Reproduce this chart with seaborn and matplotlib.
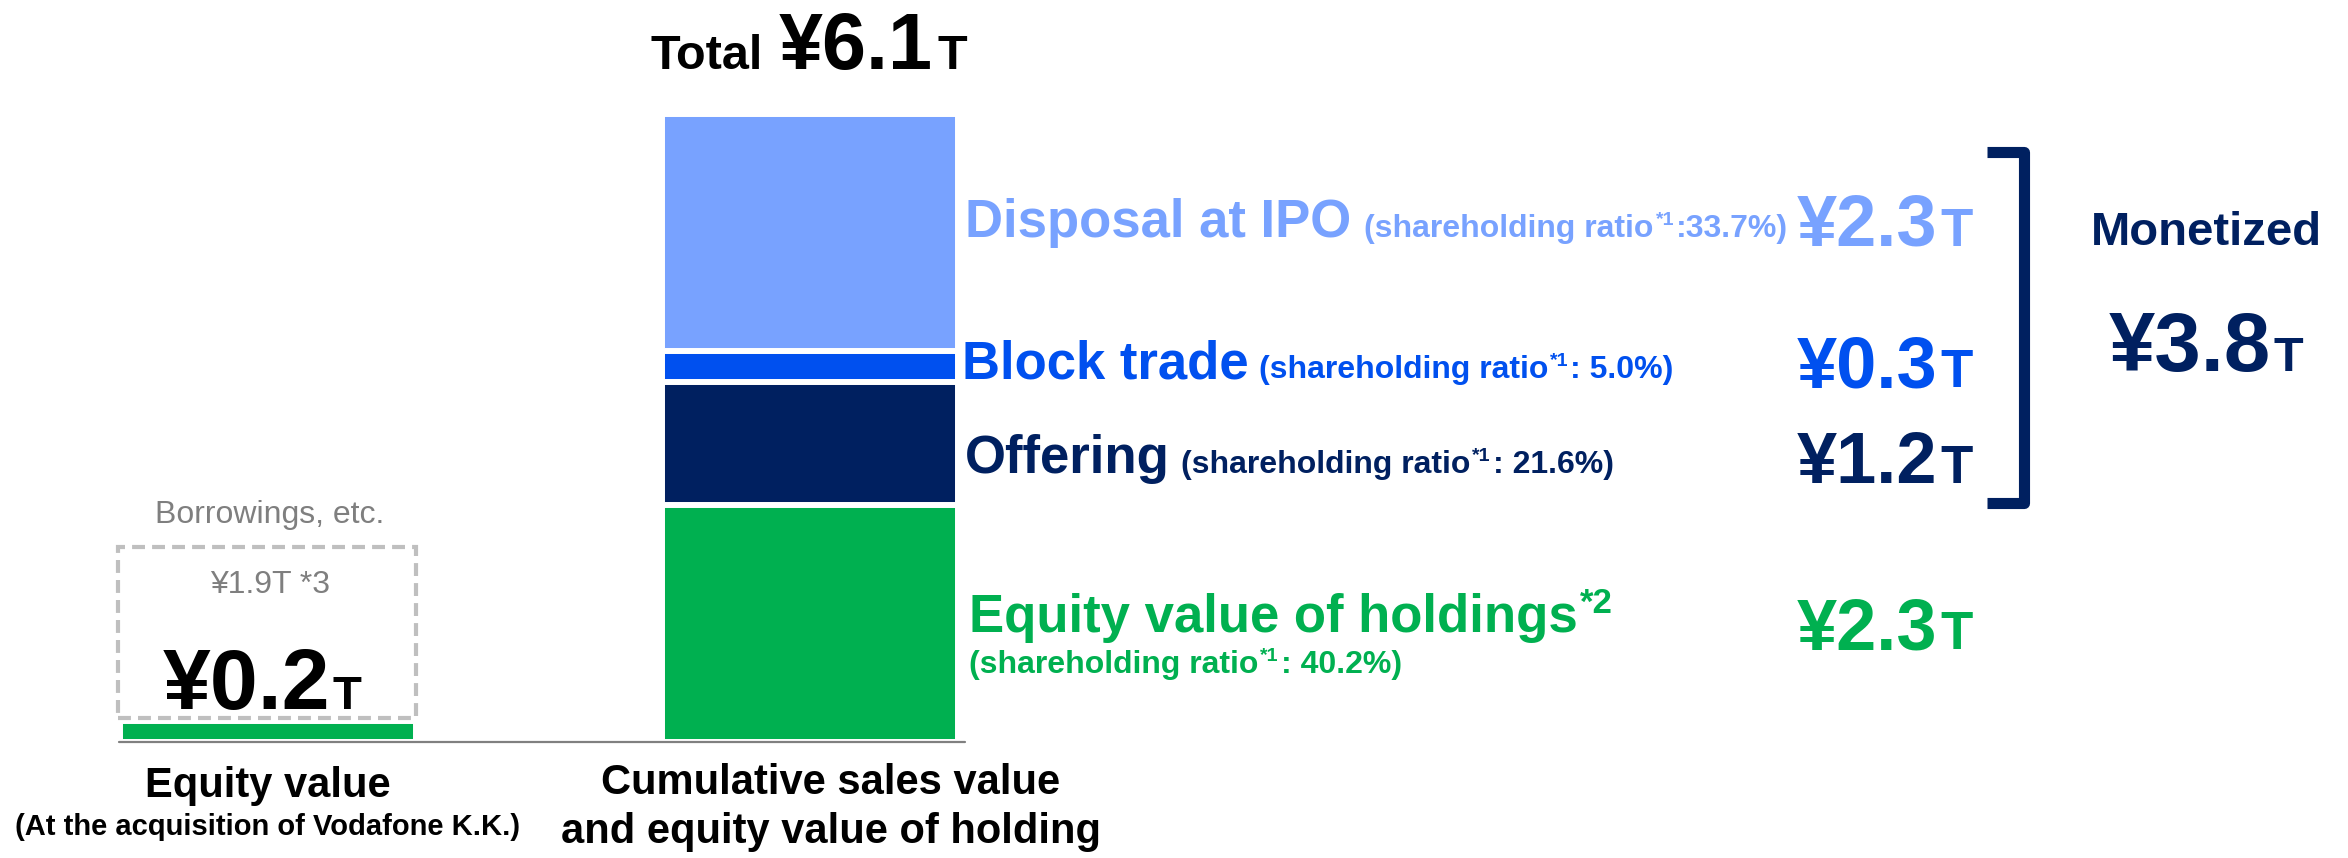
import numpy as np
import pandas as pd
import seaborn as sns
import matplotlib
matplotlib.use("Agg")
from matplotlib import pyplot as plt
from matplotlib.patches import Rectangle
from matplotlib.lines import Line2D

# values in trillion yen
categories = ["Equity value", "Cumulative sales value"]
equity_at_acquisition = 0.2
borrowings = 1.9
segment_names = ["Equity value of holdings", "Offering", "Block trade", "Disposal at IPO"]
segment_values = [2.3, 1.2, 0.3, 2.3]
ratio_labels = [": 40.2%)", ": 21.6%)", ": 5.0%)", ":33.7%)"]
segment_colors = ["#00B050", "#002060", "#0050EF", "#78A2FF"]
total = 6.1
monetized = 3.8

sns.set_style("white")
plt.rcParams["font.family"] = ["Liberation Sans", "DejaVu Sans"]

W, H = 2348, 858
fig = plt.figure(figsize=(W / 100, H / 100), dpi=100)
ax = fig.add_axes([0, 0, 1, 1])

# stacked bar: draw cumulative heights from the top down
cum = np.cumsum(segment_values)
for i in reversed(range(len(segment_values))):
    df = pd.DataFrame({"cat": [categories[1]], "v": [cum[i]]})
    sns.barplot(data=df, x="cat", y="v", order=categories, color=segment_colors[i],
                saturation=1, width=0.545, edgecolor="white", linewidth=4.3,
                errorbar=None, ax=ax)

df0 = pd.DataFrame({"cat": [categories[0]], "v": [equity_at_acquisition]})
sns.barplot(data=df0, x="cat", y="v", order=categories, color=segment_colors[0],
            saturation=1, width=0.545, edgecolor="white", linewidth=4.3,
            errorbar=None, ax=ax)

# dashed frame for borrowings
ax.add_patch(Rectangle((-0.277, 0.233), 0.55, 1.66, fill=False, edgecolor="#BFBFBF",
                       linewidth=3, linestyle=(0, (3.1, 1.7)), zorder=3))

ax.plot([-0.275, 1.286], [0, 0], color="#808080", linewidth=1.6, zorder=4)

ax.set_xlim(-268 / 542, (W - 268) / 542)
ax.set_ylim(-(H - 742) / 103, 742 / 103)
ax.set_axis_off()

renderer = fig.canvas.get_renderer()


def run(x, y, parts, color, ha="left", weight="bold"):
    # parts: (text, size, rise_px, gap_px)
    items = []
    for p in parts:
        s, size = p[0], p[1]
        rise = p[2] if len(p) > 2 else 0
        gap = p[3] if len(p) > 3 else 0
        t = fig.text(0, 0, s, fontsize=size, color=color, weight=weight,
                     va="baseline", ha="left")
        w = t.get_window_extent(renderer).width
        items.append((t, rise, gap, w))
    tw = sum(g + w for _, _, g, w in items)
    cx = x - tw / 2 if ha == "center" else x
    for t, rise, gap, w in items:
        cx += gap
        t.set_position((cx / W, 1 - (y - rise) / H))
        cx += w


def yen(v):
    return f"¥{v:.1f}"


run(809, 69, [("Total", 35), (yen(total), 57, 0, 16), ("T", 35, 0, 5)],
    "black", ha="center")

# segment labels
name_pos = [(969, 632), (965, 473), (962, 378), (965, 237)]
name_gap = [0, 11, 10, 13]
value_base = [649, 483, 387, 246]
for i, name in enumerate(segment_names):
    c = segment_colors[i]
    x, y = name_pos[i]
    if i == 0:
        run(x, y, [(name, 38), ("*2", 25, 19, 2)], c)
        run(x, 673, [("(shareholding ratio", 23), ("*1", 14, 12, 2), (ratio_labels[i], 23, 0, 2)], c)
    else:
        run(x, y, [(name, 38), ("(shareholding ratio", 23, 0, name_gap[i]),
                   ("*1", 14, 12, 2), (ratio_labels[i], 23, 0, 2)], c)
    run(1797, value_base[i], [(yen(segment_values[i]), 52), ("T", 38, 0, 3)], c)

# bracket around monetized part
bx = [1987 / W, 2024 / W, 2024 / W, 1987 / W]
by = [1 - 152 / H, 1 - 152 / H, 1 - 503 / H, 1 - 503 / H]
fig.add_artist(Line2D(bx, by, color="#002060", linewidth=8, solid_joinstyle="round",
                      solid_capstyle="butt"))

run(2206, 245, [("Monetized", 34)], "#002060", ha="center")
run(2206, 371, [(yen(monetized), 60), ("T", 35, 0, 3)], "#002060", ha="center")

# left bar annotations
run(270, 523, [("Borrowings, etc.", 23)], "#7F7F7F", ha="center", weight="normal")
run(270, 593, [(f"¥{borrowings:.1f}T *3", 23)], "#7F7F7F", ha="center", weight="normal")
run(262, 709, [(yen(equity_at_acquisition), 62), ("T", 34, 0, 3)], "black", ha="center")

# category labels
run(268, 797, [("Equity value", 30)], "black", ha="center")
run(268, 835, [("(At the acquisition of Vodafone K.K.)", 21)], "black", ha="center")
run(831, 794, [("Cumulative sales value", 30)], "black", ha="center")
run(831, 843, [("and equity value of holding", 30)], "black", ha="center")

fig.savefig("out.png", dpi=100)
